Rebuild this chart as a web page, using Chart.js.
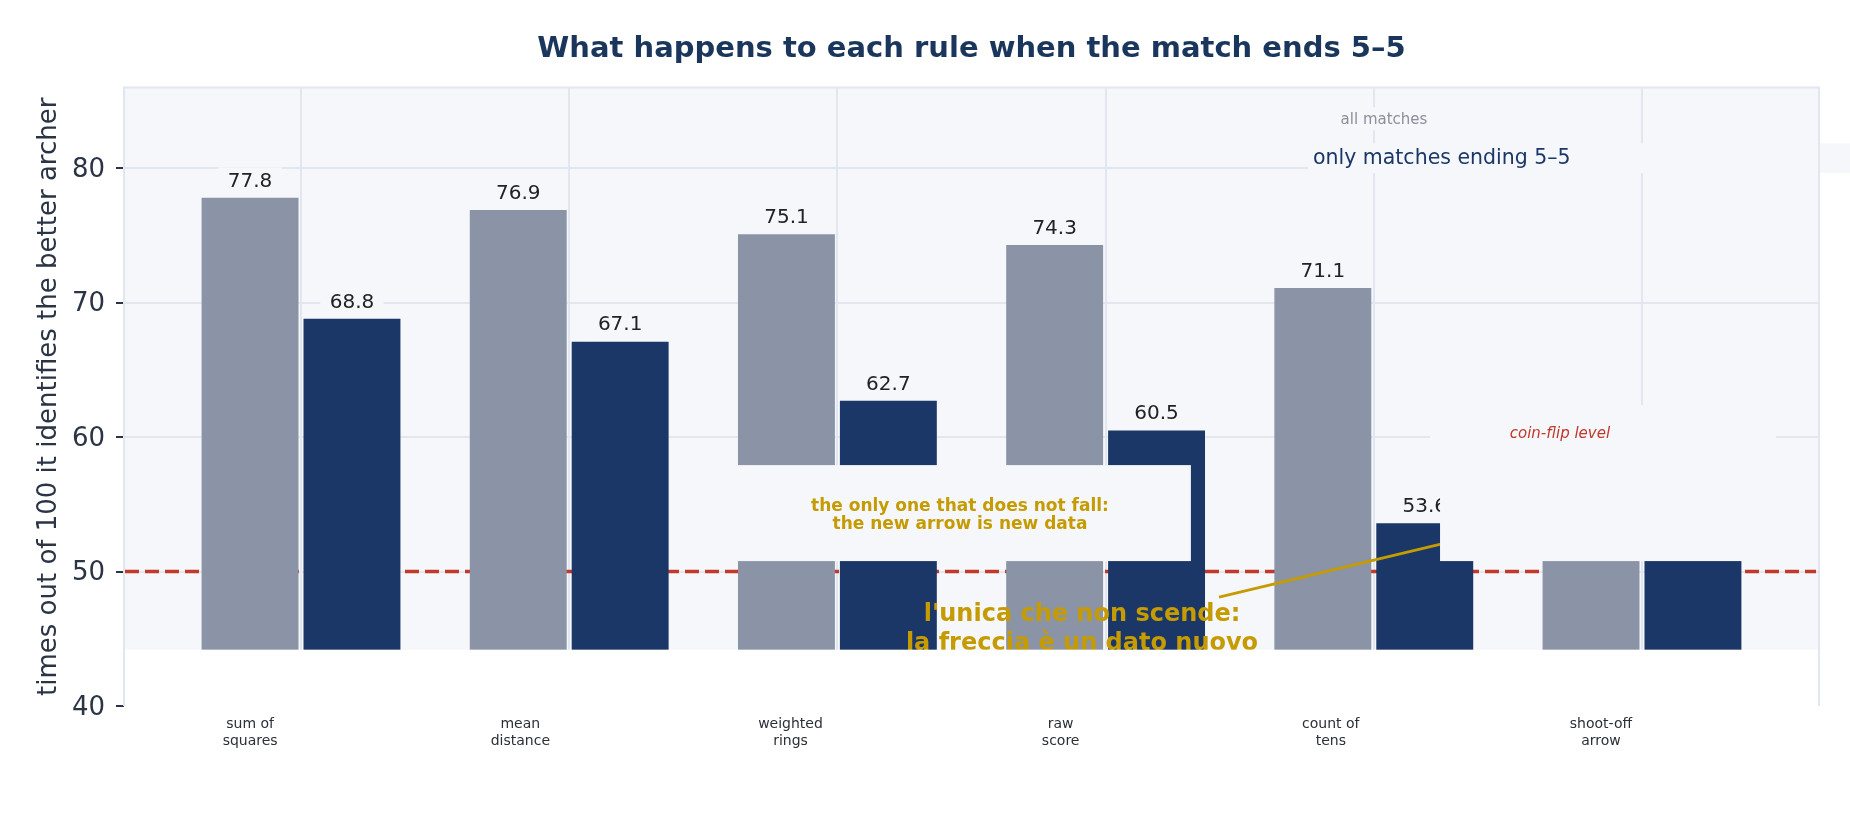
<!DOCTYPE html>
<html>
<head>
<meta charset="utf-8">
<title>What happens to each rule when the match ends 5–5</title>
<script src="https://cdn.jsdelivr.net/npm/chart.js"></script>
<style>
  body { margin: 0; background: #ffffff; }
  canvas { display: block; }
</style>
</head>
<body>
<canvas id="ruleChart" width="1850" height="814"></canvas>
<script>
// data
const ruleLabels = [["sum of", "squares"], ["mean", "distance"], ["weighted", "rings"], ["raw", "score"], ["count of", "tens"], ["shoot-off", "arrow"]];
const allMatches = [77.8, 76.9, 75.1, 74.3, 71.1, 57.6];
const tiedMatches = [68.8, 67.1, 62.7, 60.5, 53.6, 58.0];
const yTicks = [40, 50, 60, 70, 80];
const coinFlip = 50;

const gray = '#8b94a6';
const navy = '#1b3768';
const plotBg = '#f5f7fb';
const gridColor = '#e2e6ef';
const inkColor = '#2a3445';
const gold = '#c59b00';
const red = '#c0392b';

Chart.defaults.font.family = "'DejaVu Sans', sans-serif";

function toPx(chart, x, y) {
    return [chart.scales.x.getPixelForValue(x), chart.scales.y.getPixelForValue(y)];
}

function fillBox(chart, x0, x1, y0, y1, color) {
    const ctx = chart.ctx;
    const [xa, ya] = toPx(chart, x0, y0);
    let [xb, yb] = toPx(chart, x1, y1);
    if (x1 === null) xb = chart.width;
    ctx.fillStyle = color;
    ctx.fillRect(xa, Math.min(ya, yb), xb - xa, Math.abs(yb - ya));
}

function drawText(chart, str, x, y, font, color, align) {
    const ctx = chart.ctx;
    const [px, py] = toPx(chart, x, y);
    ctx.font = font;
    ctx.fillStyle = color;
    ctx.textAlign = align || 'center';
    ctx.textBaseline = 'middle';
    ctx.fillText(str, px, py);
}

const overlays = {
    id: 'overlays',
    beforeDraw(chart) {
        const { ctx, chartArea: a } = chart;
        ctx.save();
        ctx.fillStyle = '#ffffff';
        ctx.fillRect(0, 0, chart.width, chart.height);
        ctx.fillStyle = plotBg;
        ctx.fillRect(a.left, a.top, a.right - a.left, a.bottom - a.top);
        ctx.restore();
    },
    beforeDatasetsDraw(chart) {
        const { ctx, chartArea: a } = chart;
        const y = chart.scales.y.getPixelForValue(coinFlip);
        ctx.save();
        ctx.strokeStyle = red;
        ctx.lineWidth = 3.5;
        ctx.setLineDash([14, 6]);
        ctx.beginPath();
        ctx.moveTo(a.left + 1, y);
        ctx.lineTo(a.right - 3, y);
        ctx.stroke();
        ctx.restore();
    },
    afterDatasetsDraw(chart) {
        const { ctx, chartArea: a } = chart;
        ctx.save();

        // value labels above the bars
        chart.data.datasets.forEach((ds, i) => {
            chart.getDatasetMeta(i).data.forEach((bar, j) => {
                const label = ds.data[j].y.toFixed(1);
                ctx.font = '20px "DejaVu Sans"';
                const w = ctx.measureText(label).width + 19;
                const cy = bar.y - 16.5;
                ctx.fillStyle = plotBg;
                ctx.fillRect(bar.x - w / 2, cy - 14, w, 28);
                ctx.fillStyle = '#222222';
                ctx.textAlign = 'center';
                ctx.textBaseline = 'middle';
                ctx.fillText(label, bar.x, cy);
            });
        });

        // big italian note with its pointer
        const [sx, sy] = toPx(chart, 3.423, 48.10);
        const [ex, ey] = toPx(chart, 4.359, 52.56);
        ctx.strokeStyle = gold;
        ctx.lineWidth = 3;
        ctx.beginPath();
        ctx.moveTo(sx, sy);
        ctx.lineTo(ex, ey);
        ctx.stroke();
        drawText(chart, "l'unica che non scende:", 2.912, 46.77, 'bold 24px "DejaVu Sans"', gold);
        drawText(chart, 'la freccia è un dato nuovo', 2.912, 44.61, 'bold 24px "DejaVu Sans"', gold);

        // english note box
        fillBox(chart, 1.596, 3.318, 50.78, 57.92, plotBg);
        drawText(chart, 'the only one that does not fall:', 2.457, 54.87, 'bold 17px "DejaVu Sans"', gold);
        drawText(chart, 'the new arrow is new data', 2.457, 53.50, 'bold 17px "DejaVu Sans"', gold);

        // coin-flip label box
        fillBox(chart, 4.210, 5.500, 57.54, 62.38, plotBg);
        fillBox(chart, 4.247, 5.500, 50.78, 57.60, plotBg);
        drawText(chart, 'coin-flip level', 4.694, 60.22, 'italic 15px "DejaVu Sans"', red);

        // legend entries
        fillBox(chart, 3.837, 4.239, 82.82, 84.53, plotBg);
        drawText(chart, 'all matches', 4.038, 83.60, '15px "DejaVu Sans"', '#8a8f99');
        fillBox(chart, 3.755, null, 79.64, 81.85, plotBg);
        drawText(chart, 'only matches ending 5–5', 3.773, 80.70, '20.5px "DejaVu Sans"', navy, 'left');

        // white band at the foot of the plot
        const bandTop = chart.scales.y.getPixelForValue(44.19);
        ctx.fillStyle = '#ffffff';
        ctx.fillRect(a.left, bandTop, a.right - a.left, a.bottom - bandTop + 1);

        // frame: top, left, right
        ctx.strokeStyle = gridColor;
        ctx.lineWidth = 2;
        ctx.beginPath();
        ctx.moveTo(a.left, a.bottom);
        ctx.lineTo(a.left, a.top);
        ctx.lineTo(a.right, a.top);
        ctx.lineTo(a.right, a.bottom);
        ctx.stroke();

        ctx.restore();
    }
};

new Chart(document.getElementById('ruleChart'), {
    type: 'bar',
    data: {
        datasets: [
            {
                label: 'all matches',
                data: allMatches.map((v, i) => ({ x: i, y: v })),
                backgroundColor: gray,
                categoryPercentage: 0.76,
                barPercentage: 0.951
            },
            {
                label: 'only matches ending 5–5',
                data: tiedMatches.map((v, i) => ({ x: i, y: v })),
                backgroundColor: navy,
                categoryPercentage: 0.76,
                barPercentage: 0.951
            }
        ]
    },
    options: {
        responsive: false,
        animation: false,
        devicePixelRatio: 1,
        layout: { padding: { right: 31 } },
        plugins: {
            legend: { display: false },
            tooltip: { enabled: false },
            title: {
                display: true,
                fullSize: false,
                text: 'What happens to each rule when the match ends 5–5',
                color: '#1b365d',
                font: { size: 29, weight: 'bold' },
                padding: { top: 32, bottom: 20.8 }
            }
        },
        scales: {
            x: {
                type: 'linear',
                offset: false,
                min: -0.66,
                max: 5.66,
                afterBuildTicks: s => { s.ticks = ruleLabels.map((l, i) => ({ value: i })); },
                afterFit: s => { s.height = 0; },
                ticks: { display: false },
                grid: { offset: false, color: gridColor, lineWidth: 2, drawTicks: false },
                border: { display: false }
            },
            xl: {
                type: 'linear',
                position: 'bottom',
                offset: false,
                min: -0.467,
                max: 5.807,
                afterBuildTicks: s => { s.ticks = ruleLabels.map((l, i) => ({ value: i })); },
                afterFit: s => { s.height = 108; },
                grid: { display: false, offset: false, drawTicks: false },
                border: { display: false },
                ticks: {
                    callback: v => ruleLabels[v],
                    font: { size: 14 },
                    color: '#2b2f36',
                    padding: 10,
                    maxRotation: 0,
                    autoSkip: false
                }
            },
            y: {
                min: 40,
                max: 86,
                afterBuildTicks: s => { s.ticks = yTicks.map(v => ({ value: v })); },
                afterFit: s => { s.width = 124; },
                grid: {
                    color: c => (c.tick && c.tick.value === 40) ? 'rgba(0,0,0,0)' : gridColor,
                    lineWidth: 2,
                    tickColor: inkColor,
                    tickLength: 8,
                    tickWidth: 2
                },
                border: { display: false },
                ticks: { font: { size: 26 }, color: inkColor, padding: 11, labelOffset: 2 },
                title: {
                    display: true,
                    text: 'times out of 100 it identifies the better archer',
                    font: { size: 26 },
                    color: inkColor,
                    padding: { top: 34, bottom: 0 }
                }
            }
        }
    },
    plugins: [overlays]
});
</script>
</body>
</html>
